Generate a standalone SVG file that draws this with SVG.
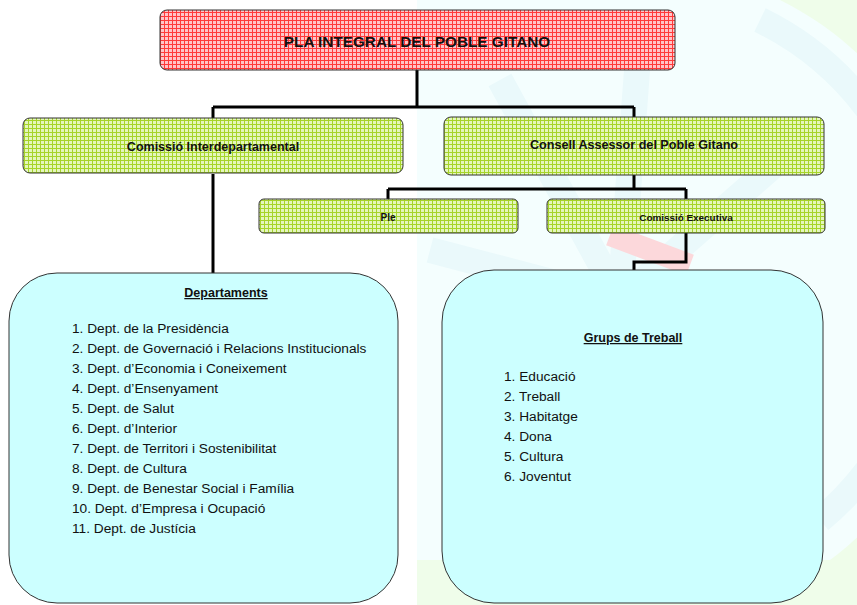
<svg xmlns="http://www.w3.org/2000/svg" width="857" height="605" viewBox="0 0 857 605">
<style>
.t{font-family:"Liberation Sans",Arial,sans-serif;fill:#111}
.b{font-weight:bold}
.box{stroke:#333;stroke-width:1}
.conn{fill:none;stroke:#000;stroke-width:3}
.item{font-size:13.7px}
</style>
<defs>
<pattern id="red" width="4" height="4" patternUnits="userSpaceOnUse">
<rect width="4" height="4" fill="#ffc4c8"/>
<path d="M0 0.5H4M0.5 0V4" stroke="#ff3a3a" stroke-width="1"/>
</pattern>
<pattern id="green" width="4" height="4" patternUnits="userSpaceOnUse">
<rect width="4" height="4" fill="#e4f6bc"/>
<path d="M0 0.5H4M0.5 0V4" stroke="#a6d42a" stroke-width="1"/>
</pattern>
</defs>
<rect width="857" height="605" fill="#fff"/>
<g id="watermark">
<rect x="417" y="0" width="440" height="605" fill="#effdea"/>
<path d="M417 0 H780 A330 330 0 0 1 830 560 L417 560 Z" fill="#f4fefe"/>
<g fill="none" stroke="#eaf9fb" stroke-width="26">
<path d="M760 20 A300 300 0 0 1 820 520"/>
<path d="M430 250 L620 300 M500 80 L620 300 M640 30 L620 300 M780 160 L620 300"/>
</g>
<path d="M610 235 L690 265" stroke="#fcd8db" stroke-width="22"/>
</g>
<g id="connectors">
<path class="conn" d="M417 70 V107 M213 107 H634 M213 107 V118 M634 107 V117"/>
<path class="conn" d="M213 174 V273"/>
<path class="conn" d="M634 175 V189 M388 189 H686 M388 189 V199 M686 189 V199"/>
<path class="conn" d="M686 233 V262 H634 V270"/>
</g>
<g id="pla">
<rect class="box" x="160" y="10" width="515" height="60" rx="7" fill="url(#red)"/>
<text class="t b" x="417" y="47" font-size="15.3" text-anchor="middle">PLA INTEGRAL DEL POBLE GITANO</text>
</g>
<g id="comissio-inter">
<rect class="box" x="23" y="118" width="380" height="55" rx="7" fill="url(#green)"/>
<text class="t b" x="213" y="151" font-size="12.5" text-anchor="middle">Comissió Interdepartamental</text>
</g>
<g id="consell">
<rect class="box" x="444" y="117" width="380" height="58" rx="7" fill="url(#green)"/>
<text class="t b" x="634" y="149" font-size="12.6" text-anchor="middle">Consell Assessor del Poble Gitano</text>
</g>
<g id="ple">
<rect class="box" x="259" y="199" width="259" height="34" rx="5" fill="url(#green)"/>
<text class="t b" x="388" y="221" font-size="10" text-anchor="middle">Ple</text>
</g>
<g id="comissio-exec">
<rect class="box" x="547" y="199" width="278" height="34" rx="5" fill="url(#green)"/>
<text class="t b" x="686" y="221" font-size="9.9" text-anchor="middle">Comissió Executiva</text>
</g>
<g id="departaments">
<rect class="box" x="9" y="273" width="389" height="330" rx="48" fill="#ccffff"/>
<text class="t b" x="226" y="297" font-size="12.5" text-anchor="middle" text-decoration="underline">Departaments</text>
<g class="t item">
<text x="72" y="333">1. Dept. de la Presidència</text>
<text x="72" y="353">2. Dept. de Governació i Relacions Institucionals</text>
<text x="72" y="373">3. Dept. d’Economia i Coneixement</text>
<text x="72" y="393">4. Dept. d’Ensenyament</text>
<text x="72" y="413">5. Dept. de Salut</text>
<text x="72" y="433">6. Dept. d’Interior</text>
<text x="72" y="453">7. Dept. de Territori i Sostenibilitat</text>
<text x="72" y="473">8. Dept. de Cultura</text>
<text x="72" y="493">9. Dept. de Benestar Social i Família</text>
<text x="72" y="513">10. Dept. d’Empresa i Ocupació</text>
<text x="72" y="533">11. Dept. de Justícia</text>
</g>
</g>
<g id="grups">
<rect class="box" x="442" y="270" width="381" height="333" rx="52" fill="#ccffff"/>
<text class="t b" x="633" y="342" font-size="12.5" text-anchor="middle" text-decoration="underline">Grups de Treball</text>
<g class="t item">
<text x="504" y="381">1. Educació</text>
<text x="504" y="401">2. Treball</text>
<text x="504" y="421">3. Habitatge</text>
<text x="504" y="441">4. Dona</text>
<text x="504" y="461">5. Cultura</text>
<text x="504" y="481">6. Joventut</text>
</g>
</g>
</svg>
